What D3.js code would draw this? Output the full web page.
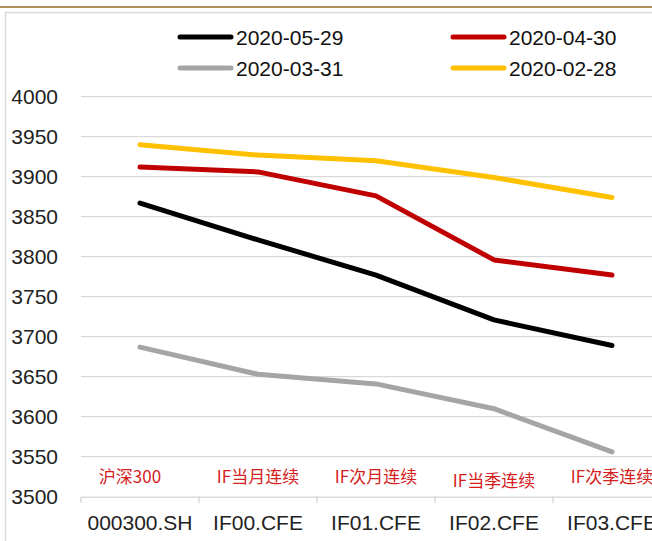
<!DOCTYPE html>
<html>
<head>
<meta charset="utf-8">
<script src="https://cdn.jsdelivr.net/npm/d3@7"></script>
<style>
  body { margin: 0; background: #fff; }
  svg { display: block; }
</style>
</head>
<body>
<div id="chart"></div>
<script>
// categories + series
var categories = ["000300.SH", "IF00.CFE", "IF01.CFE", "IF02.CFE", "IF03.CFE"];
var cnLabels = ["沪深300", "IF当月连续", "IF次月连续", "IF当季连续", "IF次季连续"];
var s0529 = [3867, 3821, 3777, 3721, 3689];
var s0430 = [3912, 3906, 3876, 3796, 3777];
var s0331 = [3687, 3653, 3641, 3610, 3556];
var s0228 = [3940, 3927, 3920, 3899, 3874];
var yTicks = [3500, 3550, 3600, 3650, 3700, 3750, 3800, 3850, 3900, 3950, 4000];

var series = [
    {name: "2020-05-29", values: s0529, color: "#000000"},
    {name: "2020-04-30", values: s0430, color: "#c00000"},
    {name: "2020-03-31", values: s0331, color: "#a5a5a5"},
    {name: "2020-02-28", values: s0228, color: "#ffc000"}
];

var width = 652, height = 541;
var font = "'Liberation Sans', Arial, sans-serif";

var svg = d3.select("#chart").append("svg")
    .attr("width", width)
    .attr("height", height);

// top rule + chart frame
svg.append("line")
    .attr("x1", 0).attr("x2", width)
    .attr("y1", 7).attr("y2", 7)
    .attr("stroke", "#ad8f5c")
    .attr("stroke-width", 2);

svg.append("rect")
    .attr("x", 5.5).attr("y", 12.5)
    .attr("width", 700).attr("height", 600)
    .attr("fill", "none")
    .attr("stroke", "#d9d9d9")
    .attr("stroke-width", 1.5);

// plot runs past the right edge of the picture
var x = d3.scaleBand()
    .domain(categories)
    .range([81, 671]);

var y = d3.scaleLinear()
    .domain([3500, 4000])
    .range([496.7, 96.7]);

// gridlines
svg.append("g")
    .selectAll("line")
    .data(yTicks.slice(1))
    .enter().append("line")
    .attr("x1", 81).attr("x2", width)
    .attr("y1", function(d){ return y(d); })
    .attr("y2", function(d){ return y(d); })
    .attr("stroke", "#d9d9d9")
    .attr("stroke-width", 1.2);

// y labels
svg.append("g")
    .selectAll("text")
    .data(yTicks)
    .enter().append("text")
    .attr("x", 58)
    .attr("y", function(d){ return y(d); })
    .attr("dy", "0.36em")
    .attr("text-anchor", "end")
    .style("font-family", font)
    .style("font-size", "21px")
    .attr("fill", "#222")
    .text(function(d){ return d; });

// x axis
var xAxis = d3.axisBottom(x).tickSize(0).tickPadding(0).tickFormat("");
var gx = svg.append("g")
    .attr("transform", "translate(0," + y(3500) + ")")
    .call(xAxis);
gx.select(".domain").attr("stroke", "#d9d9d9").attr("stroke-width", 1.5);

// tick marks between categories
var bounds = categories.map(function(c){ return x(c); });
gx.selectAll(".sep")
    .data(bounds)
    .enter().append("line")
    .attr("class", "sep")
    .attr("x1", function(d){ return d; })
    .attr("x2", function(d){ return d; })
    .attr("y1", 0).attr("y2", 6)
    .attr("stroke", "#d9d9d9")
    .attr("stroke-width", 1.5);

svg.append("g")
    .selectAll("text")
    .data(categories)
    .enter().append("text")
    .attr("x", function(d){ return x(d) + x.bandwidth() / 2; })
    .attr("y", 530)
    .attr("text-anchor", "middle")
    .style("font-family", font)
    .style("font-size", "21px")
    .attr("fill", "#222")
    .text(function(d){ return d; });

// red chinese labels above the axis
svg.append("g")
    .selectAll("text")
    .data(cnLabels)
    .enter().append("text")
    .attr("x", function(d, i){ return x(categories[i]) + x.bandwidth() / 2 - (i === 0 ? 10 : 0); })
    .attr("y", function(d, i){ return i === 3 ? 487 : 483; })
    .attr("text-anchor", "middle")
    .style("font-family", "'Noto Sans CJK SC', sans-serif")
    .style("font-size", "17px")
    .attr("fill", "#d42020")
    .text(function(d){ return d; });

// lines
var line = d3.line()
    .x(function(d, i){ return x(categories[i]) + x.bandwidth() / 2; })
    .y(function(d){ return y(d); });

svg.append("g")
    .selectAll("path")
    .data(series.slice().reverse())
    .enter().append("path")
    .attr("d", function(d){ return line(d.values); })
    .attr("fill", "none")
    .attr("stroke", function(d){ return d.color; })
    .attr("stroke-width", 5)
    .attr("stroke-linecap", "round")
    .attr("stroke-linejoin", "round");

// legend, 2 x 2
var legendPos = [[178, 37], [451, 37], [178, 68], [451, 68]];
var legend = svg.append("g")
    .selectAll("g")
    .data(series)
    .enter().append("g")
    .attr("transform", function(d, i){ return "translate(" + legendPos[i][0] + "," + legendPos[i][1] + ")"; });

legend.append("line")
    .attr("x1", 2).attr("x2", 53)
    .attr("stroke", function(d){ return d.color; })
    .attr("stroke-width", 5)
    .attr("stroke-linecap", "round");

legend.append("text")
    .attr("x", 58)
    .attr("dy", "0.36em")
    .style("font-family", font)
    .style("font-size", "21px")
    .attr("fill", "#111")
    .text(function(d){ return d.name; });
</script>
</body>
</html>
